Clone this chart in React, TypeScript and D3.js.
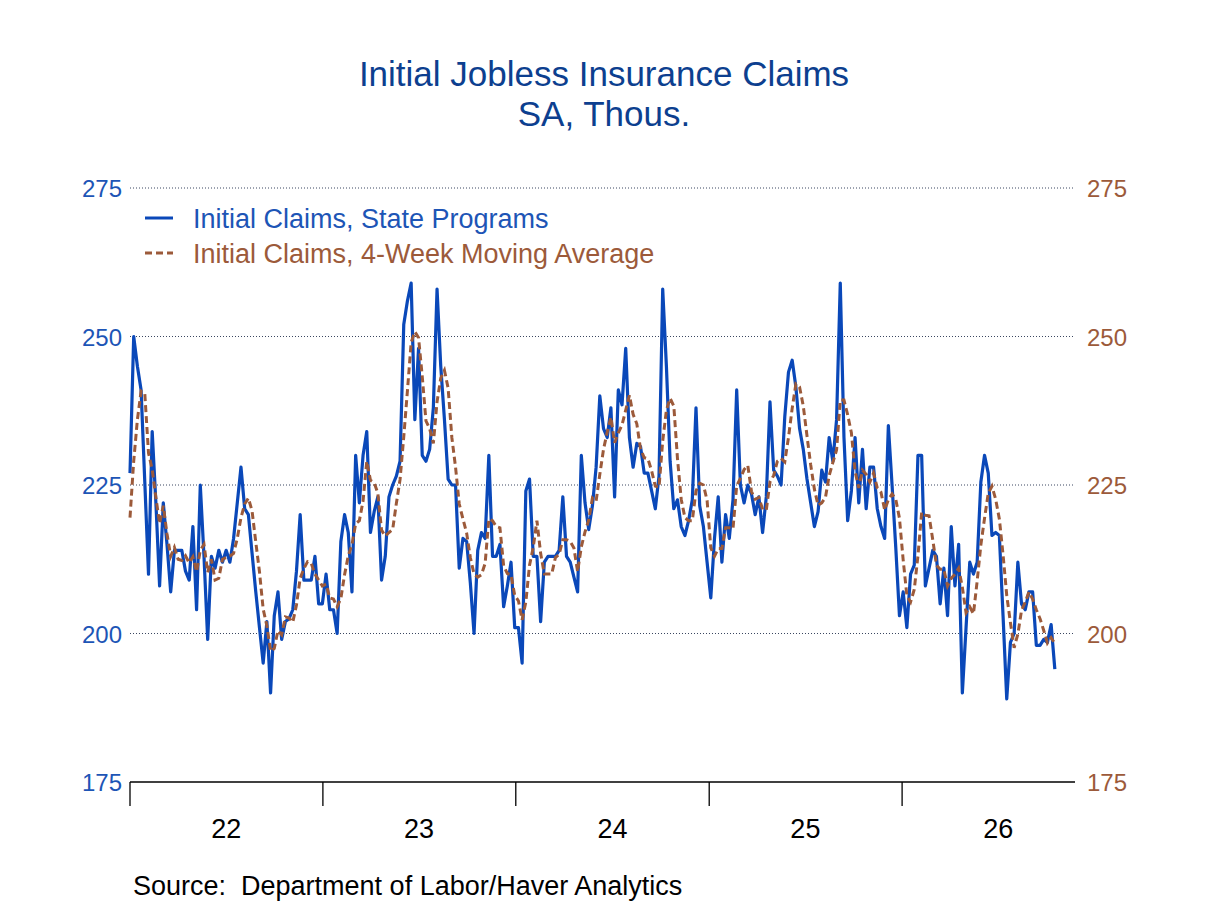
import * as d3 from "d3";
import { useEffect, useRef } from "react";

// weekly initial claims, SA thous., week 0 = week ending Jan 1 2022
const firstWeek = new Date(2022, 0, 1);

const claims = [
    227, 250, 245, 241, 225.5, 210, 234, 222, 208, 222, 215, 207, 214, 214, 214, 210.5, 209, 218, 204, 225,
    213, 199, 213, 211, 214, 212, 214, 212, 216, 222, 228, 221, 220, 213.5, 207, 201, 195, 202, 190, 203,
    207, 199, 202, 202.5, 204, 210.5, 220, 209, 209, 209, 213, 205, 205, 210, 204, 204, 200, 215.5, 220, 217,
    207, 230, 222, 230, 234, 217, 220.5, 223, 209, 213, 223, 225, 226.5, 229, 252, 256, 259, 236, 248, 230,
    229, 231, 238, 258, 245, 236, 226, 225, 225, 211, 216, 215.5, 208.5, 200, 214, 217, 216, 230, 213, 213,
    215, 204.5, 208, 212, 201, 201, 195, 224, 226, 213, 213, 202, 212, 213, 213, 213, 214, 223, 213, 212,
    209.5, 207, 230, 222, 217.5, 221.5, 228, 240, 234.5, 233, 238, 223, 241, 238.5, 248, 233, 228, 232, 231.5, 227,
    227, 224, 221, 226.5, 258, 245, 229, 221, 222.5, 218, 216.5, 219, 222.5, 238, 221.5, 218, 212, 206, 216, 223,
    212, 220, 216, 222.5, 241, 225, 222, 225, 223.5, 220, 223, 217, 223, 239, 227.5, 226.5, 225, 236.5, 244, 246,
    241.5, 234.5, 231, 226, 222, 218, 220.5, 227.5, 225.5, 233, 229, 236, 259, 233, 219, 224, 233, 222, 231, 221,
    228, 228, 221, 218, 216, 235, 225, 214.5, 203, 207, 201, 210, 211.5, 230, 230, 208, 211, 214, 213, 205,
    211, 203, 218, 208, 215, 190, 201, 212, 210, 212, 225.5, 230, 227, 216.5, 217, 216.5, 203, 189, 198.5, 200,
    212, 205, 204, 207, 207, 198, 198, 199, 198.5, 201.5, 194,
];

const movingAvg = [
    219.5, 229, 236, 240.8, 240.4, 230.4, 227.6, 222.9, 218.5, 221.5, 216.8, 213, 214.5, 212.5, 212.3, 213.1, 211.9, 212.9, 210.4, 214,
    215, 210.3, 212.5, 209, 209.3, 212.5, 212.8, 213, 213.5, 216, 219.5, 221.8, 222.8, 220.6, 215.4, 210.4, 204.1, 201.3, 197, 197.5,
    200.5, 199.8, 202.8, 202.6, 201.9, 204.8, 209.3, 210.9, 212.1, 211.8, 210, 209, 208, 208.3, 206, 205.8, 204.5, 205.9, 209.9, 213.1,
    214.9, 218.5, 219, 222.3, 229, 225.8, 225.4, 223.6, 217.4, 216.4, 217, 217.5, 221.9, 225.9, 233.1, 240.9, 249, 250.8, 249.8, 243.3,
    235.8, 234.5, 232, 239, 243, 244.3, 241.3, 233, 228, 221.8, 219.3, 216.9, 212.8, 210, 209.5, 209.9, 211.8, 219.3, 219, 218,
    217.8, 211.4, 210.1, 209.9, 206.4, 205.5, 202.3, 205.3, 211.5, 214.5, 219, 213.5, 210, 210, 210, 212.8, 213.3, 215.8, 215.8, 215.5,
    214.4, 210.4, 214.6, 217.1, 219.1, 222.8, 222.3, 226.8, 231, 233.9, 236.4, 232.1, 233.8, 235.1, 237.6, 240.1, 236.9, 235.3, 231.1, 229.6,
    229.4, 227.4, 224.8, 224.6, 232.4, 237.6, 239.6, 238.3, 229.4, 222.6, 219.5, 219, 219, 224, 225.3, 225, 222.4, 214.4, 213, 214.3,
    214.3, 217.8, 217.8, 217.6, 224.9, 226.1, 227.6, 228.3, 223.9, 222.6, 222.9, 220.9, 220.8, 225.5, 226.6, 229, 229.5, 228.9, 233, 237.9,
    242, 241.5, 238.3, 233.3, 228.4, 224.3, 221.6, 222, 222.9, 226.6, 228.8, 230.9, 239.3, 239.3, 236.8, 233.8, 227.3, 224.5, 227.5, 226.8,
    225.5, 227, 224.5, 223.8, 220.8, 222.5, 223.5, 222.6, 219.4, 212.4, 206.4, 205.3, 207.4, 213.1, 220.4, 219.9, 219.8, 215.8, 211.5, 210.8,
    210.8, 208, 209.3, 210, 211, 207.8, 203.5, 204.5, 203.3, 208.8, 214.9, 219.4, 223.6, 224.8, 222.6, 219.3, 213.3, 206.4, 201.8, 197.6,
    199.9, 203.9, 205.3, 207, 205.8, 204, 202.5, 200.5, 198.4, 199.3, 198.3,
];

const yTicks = [175, 200, 225, 250, 275];
const yearLabels = ["22", "23", "24", "25", "26"];
const seriesNames = ["Initial Claims, State Programs", "Initial Claims, 4-Week Moving Average"];

const BLUE = "#0a48b9";
const BLUE_TEXT = "#1d55b6";
const BROWN = "#9c5a3a";
const TITLE = "#0d3f8f";

const chart = (svgEl) => {
    const W = 1208;
    const H = 906;
    const left = 130;
    const right = 1075;
    const top = 188;
    const bottom = 782;
    const font = "'Liberation Sans', Arial, sans-serif";

    const svg = d3.select(svgEl).attr("width", W).attr("height", H).style("font-family", font);
    svg.selectAll("*").remove();

    const x = d3
        .scaleTime()
        .domain([new Date(2022, 0, 1), new Date(2027, 0, 1)])
        .range([left, 1095]);
    const y = d3.scaleLinear().domain([175, 275]).range([bottom, top]);

    const weekDate = (i) => d3.timeDay.offset(firstWeek, 7 * i);

    // title
    svg.append("text")
        .attr("x", 604)
        .attr("y", 86)
        .attr("text-anchor", "middle")
        .attr("font-size", 35)
        .attr("fill", TITLE)
        .text("Initial Jobless Insurance Claims");
    svg.append("text")
        .attr("x", 604)
        .attr("y", 126)
        .attr("text-anchor", "middle")
        .attr("font-size", 35)
        .attr("fill", TITLE)
        .text("SA, Thous.");

    // gridlines
    svg.append("g")
        .selectAll("line")
        .data(yTicks.filter((d) => d > 175))
        .join("line")
        .attr("x1", left)
        .attr("x2", right)
        .attr("y1", (d) => y(d))
        .attr("y2", (d) => y(d))
        .attr("stroke", "#3a4660")
        .attr("stroke-width", 1)
        .attr("stroke-dasharray", "1,2");

    // y labels left and right
    svg.append("g")
        .selectAll("text")
        .data(yTicks)
        .join("text")
        .attr("x", 122)
        .attr("y", (d) => y(d) + 9)
        .attr("text-anchor", "end")
        .attr("font-size", 24)
        .attr("fill", BLUE_TEXT)
        .text((d) => d);
    svg.append("g")
        .selectAll("text")
        .data(yTicks)
        .join("text")
        .attr("x", 1087)
        .attr("y", (d) => y(d) + 9)
        .attr("font-size", 24)
        .attr("fill", BROWN)
        .text((d) => d);

    // bottom axis
    svg.append("line")
        .attr("x1", left)
        .attr("x2", right)
        .attr("y1", bottom)
        .attr("y2", bottom)
        .attr("stroke", "#000")
        .attr("stroke-width", 1.3);
    const yearStarts = d3.range(2022, 2027).map((yr) => new Date(yr, 0, 1));
    svg.append("g")
        .selectAll("line")
        .data(yearStarts)
        .join("line")
        .attr("x1", (d) => x(d))
        .attr("x2", (d) => x(d))
        .attr("y1", bottom)
        .attr("y2", bottom + 24)
        .attr("stroke", "#000")
        .attr("stroke-width", 1.3);
    svg.append("g")
        .selectAll("text")
        .data(yearLabels)
        .join("text")
        .attr("x", (d, i) => x(new Date(2022 + i, 6, 2)))
        .attr("y", 838)
        .attr("text-anchor", "middle")
        .attr("font-size", 27)
        .attr("fill", "#000")
        .text((d) => d);

    // series
    const line = d3
        .line()
        .x((d, i) => x(weekDate(i)))
        .y((d) => y(d));

    svg.append("path")
        .datum(claims)
        .attr("d", line)
        .attr("fill", "none")
        .attr("stroke", BLUE)
        .attr("stroke-width", 3.2)
        .attr("stroke-linejoin", "round");

    svg.append("path")
        .datum(movingAvg)
        .attr("d", line)
        .attr("fill", "none")
        .attr("stroke", BROWN)
        .attr("stroke-width", 3)
        .attr("stroke-dasharray", "7,4");

    // legend
    const legend = svg.append("g");
    [BLUE, BROWN].forEach((c, i) => {
        const ly = 218 + i * 35;
        legend
            .append("line")
            .attr("x1", 145)
            .attr("x2", 173)
            .attr("y1", ly)
            .attr("y2", ly)
            .attr("stroke", c)
            .attr("stroke-width", 3)
            .attr("stroke-dasharray", i === 1 ? "7,4" : null);
        legend
            .append("text")
            .attr("x", 193)
            .attr("y", ly + 10)
            .attr("font-size", 27)
            .attr("fill", i === 0 ? BLUE_TEXT : BROWN)
            .text(seriesNames[i]);
    });

    // source
    svg.append("text")
        .attr("x", 133)
        .attr("y", 895)
        .attr("font-size", 27)
        .attr("fill", "#000")
        .attr("xml:space", "preserve")
        .style("white-space", "pre")
        .text("Source:  Department of Labor/Haver Analytics");
};

export default function App() {
    const svgRef = useRef(null);
    useEffect(() => {
        chart(svgRef.current);
    }, []);
    return <svg ref={svgRef} style={{ position: "absolute", left: 0, top: 0, background: "#fff" }}></svg>;
}
